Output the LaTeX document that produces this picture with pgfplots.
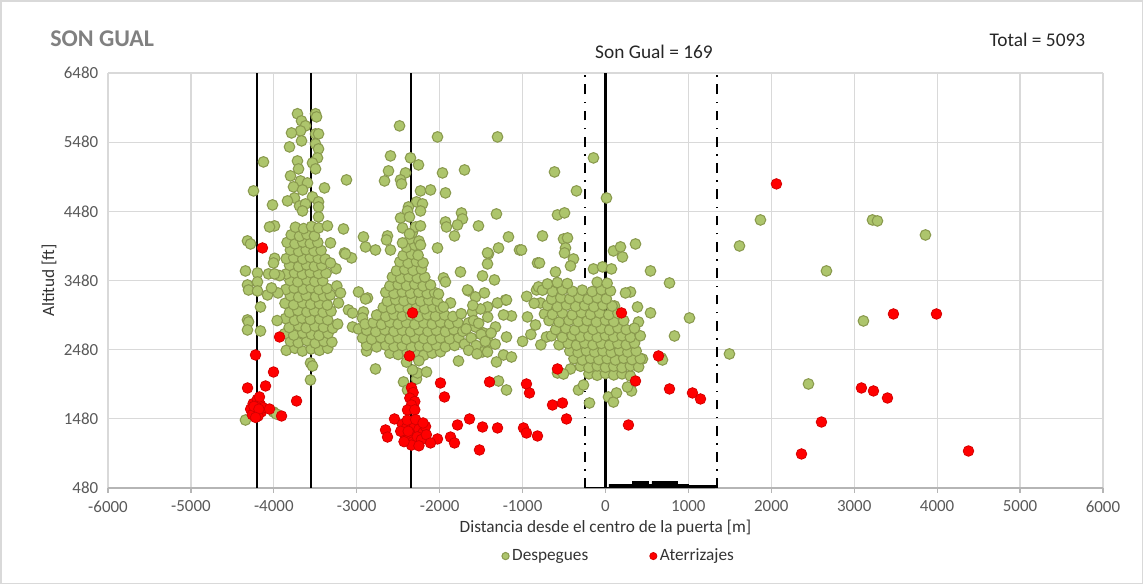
\documentclass[border=0pt]{standalone}
\usepackage{fontspec}
\setmainfont{Carlito}
\usepackage{pgfplots}
\usepackage{pgfplotstable}
\pgfplotsset{compat=1.18}

\definecolor{gfill}{RGB}{173,197,108}
\definecolor{gdraw}{RGB}{138,154,78}
\definecolor{rdraw}{RGB}{210,0,0}
\definecolor{gridc}{RGB}{217,217,217}
\definecolor{tickc}{RGB}{89,89,89}
\definecolor{titc}{RGB}{128,128,128}

\pgfplotstableread{
x y
-3850 2470
-3745 2500
-3655 2460
-3550 2490
-3450 2470
-3350 2500
-3800 2600
-3705 2580
-3600 2610
-3500 2575
-3395 2600
-3300 2590
-3870 2710
-3760 2690
-3650 2720
-3545 2700
-3455 2685
-3345 2715
-3815 2800
-3700 2825
-3610 2795
-3505 2820
-3400 2805
-3290 2790
-3860 2930
-3750 2905
-3660 2935
-3560 2915
-3445 2925
-3350 2910
-3810 3020
-3710 3045
-3600 3025
-3510 3040
-3405 3020
-3310 3035
-3865 3150
-3760 3130
-3650 3155
-3555 3135
-3450 3145
-3355 3125
-3800 3260
-3700 3240
-3610 3265
-3495 3245
-3400 3255
-3320 3270
-3855 3350
-3755 3370
-3645 3355
-3550 3375
-3455 3350
-3360 3365
-3805 3480
-3710 3460
-3600 3485
-3505 3465
-3410 3475
-3850 3575
-3750 3590
-3655 3570
-3560 3595
-3460 3580
-3370 3585
-3810 3700
-3700 3680
-3605 3705
-3510 3685
-3420 3700
-3850 3795
-3760 3810
-3650 3790
-3560 3815
-3465 3800
-3380 3790
-3800 3920
-3700 3900
-3610 3925
-3515 3905
-3430 3915
-3840 4030
-3745 4010
-3650 4035
-3560 4015
-3470 4030
-3790 4140
-3690 4120
-3600 4145
-3510 4125
-3740 4250
-3640 4230
-3545 4260
-3460 4240
-3960 2900
-3950 3300
-3990 3800
-3930 3550
-3240 3400
-3230 2850
-3250 3650
-3715 5890
-3497 5890
-3485 5845
-3666 5787
-3618 5715
-3678 5642
-3787 5613
-3497 5599
-3461 5599
-3666 5498
-3497 5454
-3811 5411
-3461 5382
-3473 5252
-3715 5208
-3534 5179
-3497 5093
-3702 5093
-3799 4992
-3678 4919
-3594 4890
-3763 4833
-3654 4789
-3389 4818
-3124 4934
-4125 5194
-4245 4775
-3534 4688
-3751 4673
-3835 4630
-3461 4616
-3690 4558
-3618 4587
-4016 4572
-3654 4485
-3461 4543
-3461 4399
-3992 4269
-4052 4254
-3353 4269
-3160 4225
-2919 4110
-2894 3965
-2774 3921
-4318 4052
-4281 4008
-3317 4023
-3148 3878
-3063 3806
-4004 3733
-4342 3618
-4197 3589
-4197 3459
-4064 3575
-3992 3575
-4318 3415
-4305 3343
-4197 3329
-4076 3271
-4028 3372
-3317 3733
-3196 3300
-2979 3314
-2870 3227
-4318 2910
-4305 2881
-4318 2765
-4161 3097
-4161 2750
-4342 1463
-4004 1579
-3970 1550
-3558 2288
-3534 2244
-3558 2042
-3220 3155
-3100 3054
-3051 3010
-2919 3025
-2931 2938
-3051 2808
-2979 2779
-2870 2736
-2894 2620
-2834 2591
-2750 2721
-2882 2461
-2774 2201
-2738 2982
-2894 3213
-2600 2430
-2500 2410
-2390 2440
-2290 2420
-2190 2400
-2090 2430
-1990 2450
-2880 2540
-2760 2520
-2650 2545
-2550 2525
-2450 2540
-2340 2515
-2240 2535
-2140 2520
-2040 2545
-1930 2520
-1820 2540
-2930 2650
-2820 2630
-2710 2655
-2600 2635
-2500 2650
-2400 2630
-2300 2655
-2190 2640
-2090 2625
-1990 2650
-1880 2635
-1770 2655
-2880 2760
-2770 2740
-2660 2765
-2550 2745
-2450 2760
-2350 2740
-2250 2765
-2140 2745
-2040 2760
-1930 2740
-1830 2770
-1720 2745
-2900 2850
-2800 2870
-2700 2845
-2600 2875
-2500 2850
-2400 2870
-2300 2845
-2190 2865
-2090 2850
-1990 2875
-1880 2855
-1780 2870
-2760 2980
-2650 2960
-2550 2985
-2450 2965
-2350 2980
-2250 2960
-2150 2985
-2050 2965
-1940 2980
-1840 2960
-2680 3090
-2580 3070
-2480 3095
-2380 3075
-2280 3090
-2180 3070
-2080 3095
-1990 3080
-2630 3180
-2530 3200
-2430 3185
-2330 3205
-2230 3180
-2130 3195
-2030 3185
-2650 3310
-2550 3290
-2450 3315
-2350 3295
-2250 3310
-2150 3290
-2060 3305
-2600 3400
-2500 3420
-2400 3405
-2300 3425
-2200 3400
-2110 3415
-2570 3530
-2470 3510
-2370 3535
-2270 3515
-2180 3530
-2520 3620
-2420 3640
-2320 3625
-2220 3645
-2480 3750
-2380 3730
-2280 3755
-2200 3735
-2440 3840
-2340 3860
-2260 3845
-2400 3960
-2300 3990
-2360 4080
-2250 4050
-2330 4170
-2436 2013
-2388 1897
-2279 2056
-2267 2143
-2158 2157
-2327 2186
-2400 2300
-2250 2320
-2484 5715
-2026 5555
-1302 5555
-2593 5281
-2352 5252
-2255 5151
-2617 5064
-2412 5035
-2665 4919
-2472 4934
-2460 4876
-1966 5035
-1700 5078
-2231 4775
-2110 4789
-1930 4746
-2279 4616
-2207 4587
-2376 4543
-2388 4485
-2231 4485
-2472 4384
-2364 4399
-1737 4456
-1725 4370
-1315 4442
-1930 4326
-1918 4254
-1785 4283
-1532 4269
-2448 4240
-2291 4254
-2231 4269
-2364 4153
-2629 4124
-2641 4066
-1821 4124
-1170 4110
-2593 3921
-2448 4023
-2231 3994
-2026 3950
-1290 3950
-1037 3921
-3136 3864
-1411 3864
-1423 3719
-1749 3603
-1483 3546
-1339 3488
-820 3733
-1954 3517
-1930 3459
-2014 3285
-1652 3329
-1568 3242
-1206 3198
-832 3343
-784 3155
-1869 3155
-1954 3097
-1302 3155
-1423 3097
-1423 3879
-1664 3343
-1194 3198
-1134 2967
-1194 2663
-1327 2808
-1471 2721
-1411 2591
-1230 2403
-1134 2374
-1315 2302
-1483 2447
-1423 2447
-1194 1897
-1290 2027
-1773 2316
-1652 2866
-1568 2808
-1604 3025
-1507 3068
-1230 2982
-1700 2560
-1620 2650
-1560 2540
-1680 2780
-1590 2900
-1500 2700
-1450 2600
-1650 2470
-1530 2860
-1420 2950
-1740 3000
-1600 3120
-1460 3300
-1380 2720
-1330 2560
-1550 2420
-145 5252
-615 5049
-350 4775
12 4673
-579 4428
-494 4457
-760 4124
-506 4080
-458 4095
-482 3950
-494 3878
-386 3791
-422 3690
-796 3733
-603 3603
96 3907
181 3965
362 4008
205 3820
-145 3647
-36 3676
72 3647
543 3618
772 3444
1013 2938
832 2678
-1013 3921
-941 2953
-844 2837
-712 2663
-736 2996
-808 3387
-687 3415
-579 3430
-900 2700
-780 2550
-860 3150
-950 3250
-1000 2600
-422 2201
-579 2143
-506 2128
-326 1897
-265 1969
-193 1709
36 1796
96 1723
133 1854
314 1883
265 1940
446 2345
398 2880
386 3097
543 3011
302 3314
241 3300
109 3112
675 2360
687 2331
-200 2130
-100 2110
0 2135
100 2115
200 2130
300 2100
-300 2240
-200 2220
-100 2245
0 2225
100 2240
200 2220
300 2245
400 2230
-380 2350
-280 2330
-180 2355
-80 2335
20 2350
120 2330
220 2355
320 2335
420 2350
-430 2460
-330 2440
-230 2465
-130 2445
-30 2460
70 2440
170 2465
270 2445
370 2460
-560 2550
-450 2570
-350 2545
-250 2575
-150 2550
-50 2570
50 2545
150 2570
250 2550
350 2575
-650 2680
-520 2660
-400 2685
-300 2665
-200 2680
-100 2660
0 2685
100 2665
200 2680
300 2660
420 2680
-600 2770
-480 2790
-370 2765
-260 2795
-150 2770
-50 2790
50 2765
150 2795
250 2770
350 2790
-680 2900
-560 2880
-440 2905
-330 2885
-220 2900
-110 2880
0 2905
100 2885
220 2900
-640 2990
-520 3010
-400 2985
-290 3015
-180 2990
-70 3010
40 2985
150 3005
-700 3120
-580 3100
-470 3125
-360 3105
-250 3120
-140 3100
-30 3125
80 3110
-650 3210
-540 3230
-430 3215
-320 3235
-210 3210
-100 3230
10 3215
-760 3340
-640 3320
-520 3345
-400 3325
-280 3340
-160 3320
-50 3345
60 3330
-700 3430
-580 3450
-460 3435
-100 3455
20 3440
1869 4355
1616 3979
3220 4355
3280 4341
3859 4138
2665 3618
3111 2895
1495 2418
2448 1984
}\despegues

\pgfplotstableread{
x y
-4250 1700
-4200 1760
-4160 1680
-4280 1620
-4220 1600
-4150 1580
-4260 1540
-4190 1520
-4130 1640
-4240 1660
-4180 1620
-4220 1500
-4173 1796
-4052 1622
-4137 3950
-4221 2403
-3931 2663
-4004 2157
-4317 1926
-4100 1955
-3726 1738
-3907 1521
-2327 3011
-2364 2389
-1990 1998
-1942 1796
-1399 2013
-953 1984
-917 1854
-2340 1930
-2320 1860
-2360 1780
-2300 1730
-2340 1680
-2388 1608
-2300 1610
-2545 1478
-2450 1400
-2400 1350
-2350 1300
-2300 1380
-2250 1330
-2200 1280
-2420 1250
-2370 1200
-2320 1150
-2270 1220
-2220 1180
-2470 1300
-2170 1370
-2390 1460
-2290 1470
-2340 1100
-2250 1090
-2430 1150
-2200 1420
-2380 1300
-2160 1250
-2653 1319
-2629 1217
-2026 1189
-2110 1131
-1869 1217
-1821 1131
-1785 1391
-1640 1478
-1483 1362
-1302 1348
-1520 1030
-989 1348
-953 1275
-820 1232
193 3011
639 2389
-579 2201
-639 1680
-519 1709
362 2027
772 1912
1049 1854
1146 1767
-470 1478
277 1391
2062 4876
3473 2996
3992 2996
3087 1926
3232 1883
3401 1781
2605 1434
2364 972
4378 1015
}\aterrizajes

\begin{document}
\begin{tikzpicture}
\useasboundingbox (0,0) rectangle (762pt,389.33pt);
\draw[gridc, line width=0.8pt] (0.6pt,0.6pt) rectangle (761.4pt,388.7pt);
\node[anchor=west, font=\fontsize{16}{19}\selectfont\bfseries, text=titc] at (30pt,363.3pt) {SON GUAL};
\node[anchor=east, font=\fontsize{12.9}{15}\selectfont, text=black!85] at (727pt,362.7pt) {Total = 5093};
\node[anchor=center, font=\fontsize{12.9}{15}\selectfont, text=black!85] at (436pt,354.7pt) {Son Gual = 169};
\begin{axis}[
  at={(72pt,64pt)}, anchor=south west,
  scale only axis, width=663.3pt, height=276.7pt,
  xmin=-6000, xmax=6000, ymin=480, ymax=6480,
  xtick={-6000,-5000,...,6000}, ytick={480,1480,2480,3480,4480,5480,6480},
  scaled ticks=false,
  /pgf/number format/1000 sep={},
  /pgf/number format/assume math mode=true,
  grid=major, grid style={gridc, line width=0.8pt},
  axis lines=left,
  x axis line style={-, color=gridc!60!gray, line width=0.8pt},
  y axis line style={draw=none},
  tick align=outside,
  major tick length=3pt,
  xtick style={color=gridc!60!gray, line width=0.8pt},
  ytick style={draw=none},
  ticklabel style={font=\fontsize{11.3}{13}\selectfont, text=tickc},
  xticklabel style={yshift=-2pt},
  xlabel={Distancia desde el centro de la puerta [m]},
  ylabel={Altitud [ft]},
  label style={font=\fontsize{11.5}{13}\selectfont, text=black!80},
  xlabel style={yshift=2pt},
  ylabel style={yshift=-2pt},
  legend columns=2,
  legend style={at={(axis description cs:0.514,-0.164)}, anchor=center, draw=none, fill=none,
    font=\fontsize{11.5}{13}\selectfont, text=black!80,
    /tikz/every even column/.append style={column sep=39pt}},
  legend image code/.code={\draw[mark size=2.4pt] plot coordinates {(0pt,0pt)};},
]
\addplot[black, line width=1.4pt, forget plot] coordinates {(-4200,480) (-4200,6480)};
\addplot[black, line width=1.4pt, forget plot] coordinates {(-3550,480) (-3550,6480)};
\addplot[black, line width=1.4pt, forget plot] coordinates {(-2350,480) (-2350,6480)};
\addplot[black, line width=1.4pt, forget plot] coordinates {(0,480) (0,6480)};
\addplot[black, line width=1.4pt, dash pattern=on 6.5pt off 5pt on 1pt off 5pt, forget plot] coordinates {(-250,480) (-250,6480)};
\addplot[black, line width=1.4pt, dash pattern=on 6.5pt off 5pt on 1pt off 5pt, forget plot] coordinates {(1350,480) (1350,6480)};
\addplot[fill=black, draw=black, line width=0.3pt, forget plot] coordinates {(-250,480) (-250,490) (40,490) (40,535) (320,535) (320,575) (510,575) (510,535) (560,535) (560,575) (860,575) (860,535) (1000,535) (1000,520) (1320,520) (1320,480)};
\addplot[only marks, mark=*, mark size=3.55pt, mark options={fill=gfill, draw=gdraw, line width=0.7pt}] table[x=x, y=y] {\despegues};
\addlegendentry{Despegues}
\addplot[only marks, mark=*, mark size=3.55pt, mark options={fill=red, draw=rdraw, line width=0.5pt}] table[x=x, y=y] {\aterrizajes};
\addlegendentry{Aterrizajes}
\end{axis}
\end{tikzpicture}
\end{document}
